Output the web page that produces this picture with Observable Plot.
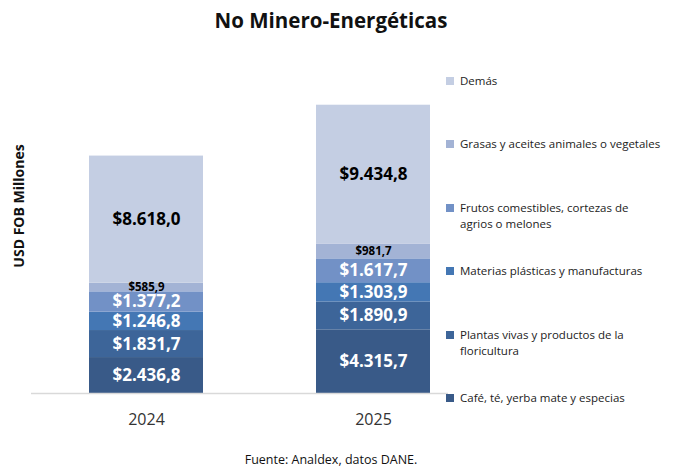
<!DOCTYPE html>
<html>
<head>
<meta charset="utf-8">
<script src="https://cdn.jsdelivr.net/npm/d3@7"></script>
<script src="https://cdn.jsdelivr.net/npm/@observablehq/plot@0.6"></script>
<style>
  body { margin: 0; background: #fff; font-family: "Open Sans", sans-serif; }
  #wrap { position: relative; width: 673px; height: 472px; }
  #title { height: 40px; line-height: 40px; text-align: center; font-size: 20.5px; font-weight: bold; color: #111; width: 662px; }
  #caption { text-align: center; font-size: 12.5px; color: #111; width: 662px; line-height: 40px; }
  #ylabel { position: absolute; left: 18px; top: 206px; transform: translate(-50%, -50%) rotate(-90deg); font-size: 14px; font-weight: bold; white-space: nowrap; color: #111; }
  #legend { position: absolute; left: 446px; top: 73px; width: 225px; font-size: 11.5px; color: #222; }
  .item { height: 63.4px; display: flex; align-items: flex-start; }
  .sw { width: 8px; height: 8px; margin-top: 4px; margin-right: 6px; flex: none; }
  .lab { line-height: 16px; width: 205px; }
  .lab.narrow { width: 185px; }
</style>
</head>
<body>
<div id="wrap">
  <div id="title">No Minero-Energéticas</div>
  <div id="chart"></div>
  <div id="caption">Fuente: Analdex, datos DANE.</div>
  <div id="ylabel">USD FOB Millones</div>
  <div id="legend"></div>
</div>
<script>
const years = ["2024", "2025"];
const categories = [
  "Café, té, yerba mate y especias",
  "Plantas vivas y productos de la floricultura",
  "Materias plásticas y manufacturas",
  "Frutos comestibles, cortezas de agrios o melones",
  "Grasas y aceites animales o vegetales",
  "Demás"
];
const values2024 = [2436.8, 1831.7, 1246.8, 1377.2, 585.9, 8618.0];
const values2025 = [4315.7, 1890.9, 1303.9, 1617.7, 981.7, 9434.8];
const colors = ["#395A88", "#3D6599", "#4477B4", "#7291C6", "#A3B3D5", "#C4CEE3"];
const labelColors = ["#fff", "#fff", "#fff", "#fff", "#000", "#000"];
const labelSizes = [17, 17, 17, 17, 11.5, 17];

const series = {"2024": values2024, "2025": values2025};
const data = [];
for (const y of years) {
  categories.forEach((c, i) => data.push({year: y, cat: c, value: series[y][i], idx: i}));
}

const loc = d3.formatLocale({decimal: ",", thousands: ".", grouping: [3], currency: ["$", ""]});
const fmt = loc.format("$,.1f");

const chart = Plot.plot({
  width: 673,
  height: 400,
  marginLeft: 31,
  marginRight: 225,
  marginTop: 58,
  marginBottom: 47,
  style: {fontFamily: "Open Sans, sans-serif", background: "#fff"},
  x: {domain: years, paddingInner: 0.5, paddingOuter: 0.1645, align: 0.76, label: null},
  y: {domain: [0, 20000], axis: null},
  color: {domain: categories, range: colors},
  marks: [
    Plot.barY(data, {x: "year", y: "value", fill: "cat", order: null}),
    Plot.ruleY([0], {stroke: "#d9d9d9", strokeWidth: 1.5}),
    Plot.text(data, Plot.stackY({
      x: "year", y: "value", order: null,
      text: d => fmt(d.value),
      fill: d => labelColors[d.idx],
      fontSize: d => labelSizes[d.idx],
      fontWeight: "bold"
    })),
    Plot.axisX({tickSize: 0, tickPadding: 20, fontSize: 16, color: "#333", label: null})
  ]
});
document.getElementById("chart").appendChild(chart);

const legend = document.getElementById("legend");
for (let i = categories.length - 1; i >= 0; i--) {
  const it = document.createElement("div");
  it.className = "item";
  const narrow = categories[i].length > 40 ? " narrow" : "";
  it.innerHTML = `<div class="sw" style="background:${colors[i]}"></div><div class="lab${narrow}">${categories[i]}</div>`;
  legend.appendChild(it);
}
</script>
</body>
</html>
